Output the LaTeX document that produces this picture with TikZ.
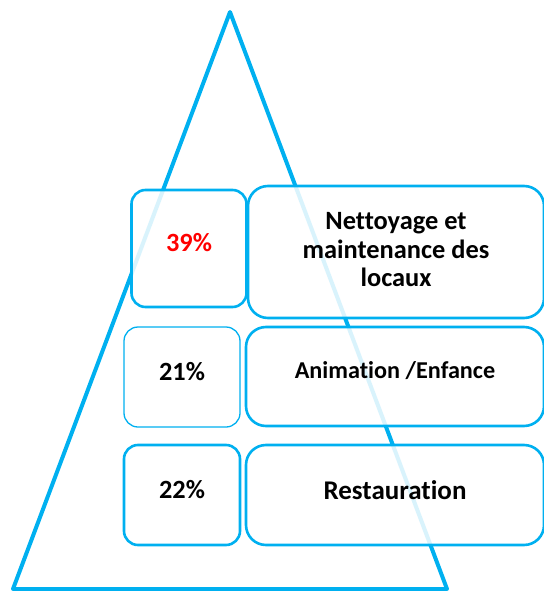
\documentclass[tikz,border=0pt]{standalone}
\usepackage{fontspec}
\setmainfont{Carlito}[Ligatures={NoCommon,NoContextual},RawFeature={-liga;-clig;-dlig}]
\definecolor{cyanb}{RGB}{0,176,240}
\definecolor{redt}{RGB}{255,0,0}
\begin{document}
\begin{tikzpicture}[x=1pt,y=-1pt,
  tri/.style={draw=cyanb,line width=4pt,line join=round},
  box/.style={draw=cyanb,line width=2.6pt,fill=white,fill opacity=0.85,draw opacity=1,inner sep=0pt,rounded corners=14pt},
  bigbox/.style={box,rounded corners=20pt},
  txt/.style={font=\bfseries,text=black,align=center,inner sep=0pt}]
\useasboundingbox (0,0) rectangle (543,591);
\coordinate (apex) at (230,12);
\coordinate (bl) at (13,589);
\coordinate (br) at (447,589);
\draw[tri] (apex) -- (br) -- (bl) -- cycle;
% row 1
\node[box,minimum width=115pt,minimum height=117pt] (p1) at (189,248.5) {};
\node[bigbox,minimum width=296pt,minimum height=132pt] (l1) at (396,252) {};
% row 2
\node[box,line width=1.3pt,minimum width=116pt,minimum height=100pt] (p2) at (182,377) {};
\node[bigbox,minimum width=298pt,minimum height=99pt] (l2) at (395,376.5) {};
% row 3
\node[box,minimum width=116pt,minimum height=100pt] (p3) at (182,495) {};
\node[bigbox,minimum width=298pt,minimum height=100pt] (l3) at (395,495) {};
% texts
\node[txt,text=redt,font=\bfseries\fontsize{26.3}{30}\selectfont] (t1) at ([yshift=5.5pt]p1.center) {39\%};
\node[txt,font=\bfseries\fontsize{26.4}{28.5}\selectfont] (u1) at ([yshift=2pt]l1.center) {Nettoyage et\\maintenance des\\locaux};
\node[txt,font=\bfseries\fontsize{26.3}{30}\selectfont] (t2) at ([yshift=5pt]p2.center) {21\%};
\node[txt,font=\bfseries\fontsize{24.2}{28}\selectfont] (u2) at ([yshift=6pt]l2.center) {Animation /Enfance};
\node[txt,font=\bfseries\fontsize{26.3}{30}\selectfont] (t3) at ([yshift=5pt]p3.center) {22\%};
\node[txt,font=\bfseries\fontsize{27}{31}\selectfont] (u3) at ([yshift=5pt]l3.center) {Restauration};
\end{tikzpicture}
\end{document}
